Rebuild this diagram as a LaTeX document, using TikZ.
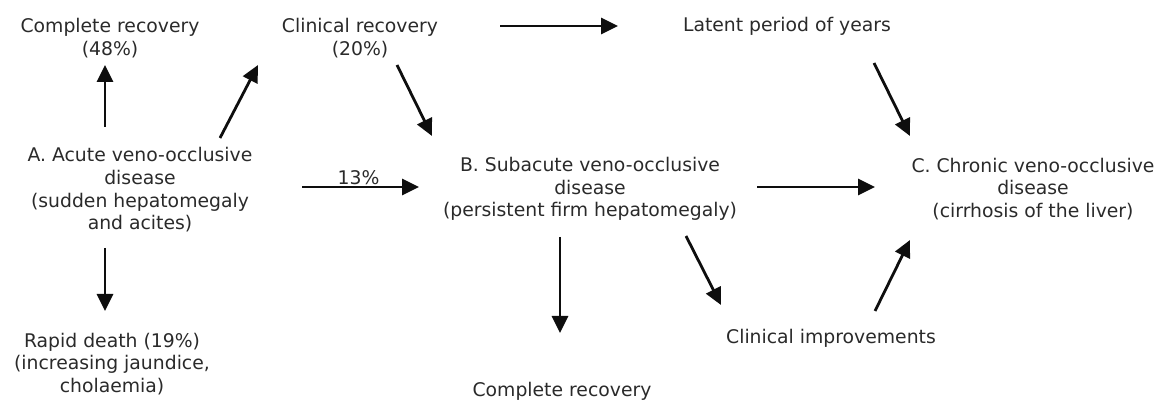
\documentclass[tikz,border=0pt]{standalone}
\usepackage{fontspec}
\setmainfont{DejaVu Sans}
\usetikzlibrary{arrows.meta,calc}
\definecolor{txt}{HTML}{2A2A2A}
\definecolor{ink}{HTML}{0E0E0E}
\tikzset{
  lbl/.style={inner sep=0pt, align=center, text=txt,
    font=\fontsize{18.8}{22.7}\selectfont},
  arr/.style={draw=ink, line width=2.8pt,
    -{Triangle[length=17pt,width=16pt]}}
}
\begin{document}
\begin{tikzpicture}[x=1pt,y=-1pt]
\useasboundingbox (0,0) rectangle (1165,403);

% outcomes of the acute stage
\node[lbl] (cr1) at (110,38) {Complete recovery\\(48\%)};
\node[lbl] (clr) at (360,38) {Clinical recovery\\(20\%)};
\node[lbl] (lat) at (787,26) {Latent period of years};
\node[lbl] (A) at (140,190) {A. Acute veno-occlusive\\disease\\(sudden hepatomegaly\\and acites)};
\node[lbl] (rd) at (112,364) {Rapid death (19\%)\\(increasing jaundice,\\cholaemia)};

% subacute and chronic stages
\node[lbl] (B) at (590,189) {B. Subacute veno-occlusive\\disease\\(persistent firm hepatomegaly)};
\node[lbl] (C) at (1033,189) {C. Chronic veno-occlusive\\disease\\(cirrhosis of the liver)};
\node[lbl] (ci) at (831,338) {Clinical improvements};
\node[lbl] (cr2) at (562,391) {Complete recovery};

% transitions
\draw[arr] ($(A)+(-35,-63)$) -- ($(cr1)+(-5,27)$);
\draw[arr] ($(A)+(80,-52)$) -- ($(clr)+(-102,27)$);
\draw[arr] ($(A)+(-35,58)$) -- ($(rd)+(-7,-53)$);
\draw[arr] ($(A)+(162,-3)$) -- node[lbl, above=1pt, xshift=-2pt] (p13) {13\%} ($(B)+(-171,-2)$);
\draw[arr] ($(clr)+(37,27)$) -- ($(B)+(-158,-53)$);
\draw[arr] ($(clr)+(140,-12)$) -- ($(lat)+(-169,0)$);
\draw[arr] ($(lat)+(87,37)$) -- ($(C)+(-123,-53)$);
\draw[arr] ($(B)+(167,-2)$) -- ($(C)+(-158,-2)$);
\draw[arr] ($(B)+(-30,48)$) -- ($(cr2)+(-2,-58)$);
\draw[arr] ($(B)+(96,47)$) -- ($(ci)+(-110,-33)$);
\draw[arr] ($(ci)+(44,-27)$) -- ($(C)+(-123,51)$);
\end{tikzpicture}
\end{document}
